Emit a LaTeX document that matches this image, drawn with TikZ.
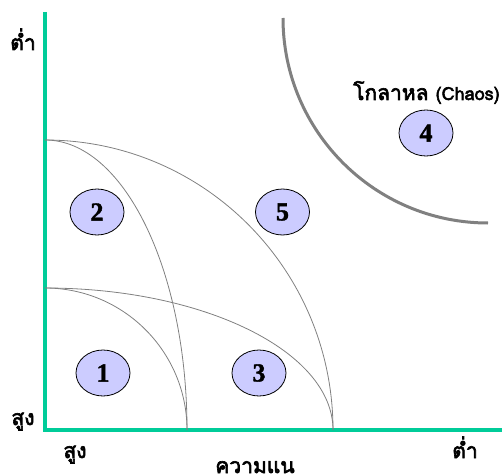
\documentclass[tikz,border=0pt]{standalone}
\usepackage{fontspec}
\setmainfont{Liberation Serif}
\newfontfamily\thaifont[Script=Thai, FakeBold=3]{Loma}
\newfontfamily\numfont[FakeBold=1.5]{Liberation Serif}
\usetikzlibrary{shapes.geometric}
\definecolor{axisgreen}{HTML}{00CC99}
\definecolor{bubble}{HTML}{CCCCFF}
\definecolor{curvegray}{HTML}{808080}
\tikzset{
  axisline/.style={draw=axisgreen, line width=4.5pt},
  zonecurve/.style={draw=curvegray, line width=0.8pt},
  chaosarc/.style={draw=curvegray, line width=3pt},
  bubblenode/.style={ellipse, draw=black, line width=0.8pt, fill=bubble,
    minimum width=54pt, minimum height=46pt, inner sep=0pt,
    font=\numfont\bfseries\fontsize{26}{26}\selectfont},
  thailabel/.style={inner sep=0pt, font=\thaifont\fontsize{21}{21}\selectfont}
}
\begin{document}
\begin{tikzpicture}[x=1pt,y=1pt]
\useasboundingbox (0,0) rectangle (503,475);
% axes
\coordinate (ytop) at (45,463);
\coordinate (origin) at (45,45);
\coordinate (xend) at (502,45);
\draw[axisline] (ytop) -- (origin) -- (xend);
% zone curves (quarter ellipses centred on the origin)
\coordinate (hi) at (45,335);
\coordinate (lo) at (45,187);
\draw[zonecurve] (hi) arc[start angle=90, end angle=0, x radius=142, y radius=290];
\draw[zonecurve] (hi) arc[start angle=90, end angle=0, x radius=288, y radius=290];
\draw[zonecurve] (lo) arc[start angle=90, end angle=0, x radius=142, y radius=142];
\draw[zonecurve] (lo) arc[start angle=90, end angle=0, x radius=288, y radius=142];
% chaos arc
\coordinate (chaosstart) at (283,457);
\draw[chaosarc] (chaosstart) arc[start angle=180, end angle=270, radius=205];
% bubbles
\node[bubblenode] (n1) at (103,102) {1};
\node[bubblenode] (n3) at (259,102) {3};
\node[bubblenode] (n2) at (97,263) {2};
\node[bubblenode] (n5) at (282.5,263) {5};
\node[bubblenode] (n4) at (426,342) {4};
% labels
\node[thailabel, anchor=base] (ylow) at (23,425) {ต่ำ};
\node[thailabel, anchor=base] (yhigh) at (23,50) {สูง};
\node[thailabel, anchor=base] (xhigh) at (75,17) {สูง};
\node[thailabel, anchor=base] (xlow) at (465,17) {ต่ำ};
\node[thailabel, anchor=base] (xtitle) at (255,2) {ความแน};
\node[thailabel, anchor=base west] (chaos) at (353,375) {โกลาหล {\fontsize{18}{18}\selectfont(Chaos)}};
\end{tikzpicture}
\end{document}
